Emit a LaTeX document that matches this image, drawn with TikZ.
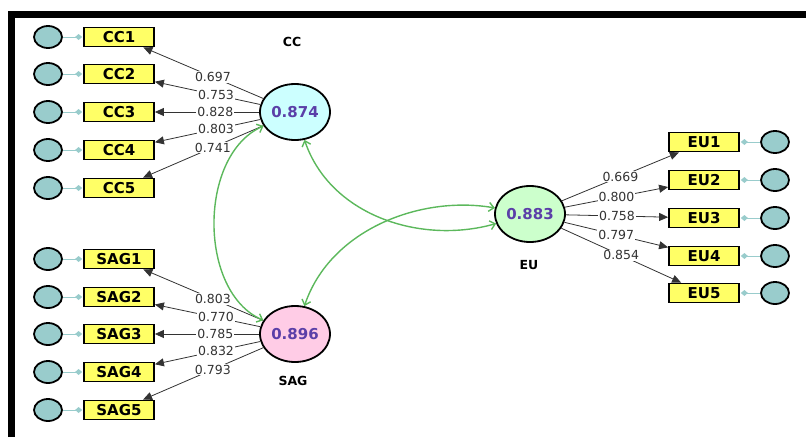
\documentclass[tikz,border=0pt]{standalone}
\usepackage{fontspec}
\setmainfont{DejaVu Sans}
\usepackage{tikz}
\usetikzlibrary{shapes.geometric,arrows.meta}
\definecolor{errfill}{HTML}{99CCCC}
\definecolor{boxfill}{HTML}{FFFF66}
\definecolor{ccfill}{HTML}{CCFFFF}
\definecolor{sagfill}{HTML}{FFCCE6}
\definecolor{eufill}{HTML}{CCFFCC}
\definecolor{valcol}{HTML}{5B3FA8}
\definecolor{covcol}{HTML}{5CB85C}
\definecolor{loadcol}{HTML}{333333}
\tikzset{lat/.style={ellipse,draw,line width=1.8pt,minimum width=70pt,minimum height=56pt,inner sep=0pt,text=valcol,font=\bfseries\fontsize{15}{15}\selectfont}}
\tikzset{ind/.style={rectangle,draw,fill=boxfill,line width=1.8pt,minimum width=70pt,minimum height=19pt,inner sep=0pt,font=\bfseries\fontsize{15}{15}\selectfont}}
\tikzset{err/.style={ellipse,draw,fill=errfill,line width=1.8pt,minimum width=28pt,minimum height=22pt,inner sep=0pt}}
\tikzset{res/.style={draw=errfill,line width=1pt,-{Diamond[length=7pt,width=6pt]},shorten >=1pt}}
\tikzset{load/.style={draw=loadcol,line width=0.8pt,-{Triangle[length=9pt,width=8pt]}}}
\tikzset{lbl/.style={fill=white,inner sep=1pt,text=loadcol,font=\fontsize{12.5}{12.5}\selectfont}}
\tikzset{cov/.style={draw=covcol,line width=1.4pt,{Straight Barb[length=5pt,width=9pt]}-{Straight Barb[length=5pt,width=9pt]}}}
\tikzset{title/.style={font=\bfseries\fontsize{12.5}{12.5}\selectfont}}

\begin{document}
\begin{tikzpicture}[x=1pt,y=-1pt]
    \useasboundingbox (0,0) rectangle (806,437);
    \draw[line width=7pt] (11.5,437) |- (806,14.5);

    % latent variables
    \node[lat,fill=ccfill] (cc)at (295,112) {0.874};
    \node[lat,fill=sagfill] (sag)at (295,334) {0.896};
    \node[lat,fill=eufill] (eu)at (530,214) {0.883};
    \node[title] (cclab)at (292,42) {CC};
    \node[title] (saglab)at (293,381) {SAG};
    \node[title] (eulab)at (529,265) {EU};

    % indicators
    \node[ind] (cc1)at (119,37) {CC1};
    \node[ind] (cc2)at (119,74) {CC2};
    \node[ind] (cc3)at (119,112) {CC3};
    \node[ind] (cc4)at (119,150) {CC4};
    \node[ind] (cc5)at (119,188) {CC5};
    \node[ind] (sag1)at (119,259) {SAG1};
    \node[ind] (sag2)at (119,297) {SAG2};
    \node[ind] (sag3)at (119,334) {SAG3};
    \node[ind] (sag4)at (119,372) {SAG4};
    \node[ind] (sag5)at (119,410) {SAG5};
    \node[ind] (eu1)at (704,142) {EU1};
    \node[ind] (eu2)at (704,180) {EU2};
    \node[ind] (eu3)at (704,218) {EU3};
    \node[ind] (eu4)at (704,256) {EU4};
    \node[ind] (eu5)at (704,293) {EU5};

    % error terms
    \node[err] (ecc1)at (48,37) {};
    \node[err] (ecc2)at (48,74) {};
    \node[err] (ecc3)at (48,112) {};
    \node[err] (ecc4)at (48,150) {};
    \node[err] (ecc5)at (48,188) {};
    \node[err] (esag1)at (48,259) {};
    \node[err] (esag2)at (48,297) {};
    \node[err] (esag3)at (48,334) {};
    \node[err] (esag4)at (48,372) {};
    \node[err] (esag5)at (48,410) {};
    \node[err] (eeu1)at (775,142) {};
    \node[err] (eeu2)at (775,180) {};
    \node[err] (eeu3)at (775,218) {};
    \node[err] (eeu4)at (775,256) {};
    \node[err] (eeu5)at (775,293) {};

    \draw[res] (ecc1) -- (cc1);
    \draw[res] (ecc2) -- (cc2);
    \draw[res] (ecc3) -- (cc3);
    \draw[res] (ecc4) -- (cc4);
    \draw[res] (ecc5) -- (cc5);
    \draw[res] (esag1) -- (sag1);
    \draw[res] (esag2) -- (sag2);
    \draw[res] (esag3) -- (sag3);
    \draw[res] (esag4) -- (sag4);
    \draw[res] (esag5) -- (sag5);
    \draw[res] (eeu1) -- (eu1);
    \draw[res] (eeu2) -- (eu2);
    \draw[res] (eeu3) -- (eu3);
    \draw[res] (eeu4) -- (eu4);
    \draw[res] (eeu5) -- (eu5);

    % loadings
    \draw[load] (cc) to node[lbl,pos=0.42]{0.697} (cc1);
    \draw[load] (cc) to node[lbl,pos=0.42]{0.753} (cc2);
    \draw[load] (cc) to node[lbl,pos=0.42]{0.828} (cc3);
    \draw[load] (cc) to node[lbl,pos=0.42]{0.803} (cc4);
    \draw[load] (cc) to node[lbl,pos=0.42]{0.741} (cc5);
    \draw[load] (sag) to node[lbl,pos=0.42]{0.803} (sag1);
    \draw[load] (sag) to node[lbl,pos=0.42]{0.770} (sag2);
    \draw[load] (sag) to node[lbl,pos=0.42]{0.785} (sag3);
    \draw[load] (sag) to node[lbl,pos=0.42]{0.832} (sag4);
    \draw[load] (sag) to node[lbl,pos=0.42]{0.793} (sag5);
    \draw[load] (eu) to node[lbl,pos=0.5]{0.669} (eu1);
    \draw[load] (eu) to node[lbl,pos=0.5]{0.800} (eu2);
    \draw[load] (eu) to node[lbl,pos=0.5]{0.758} (eu3);
    \draw[load] (eu) to node[lbl,pos=0.5]{0.797} (eu4);
    \draw[load] (eu) to node[lbl,pos=0.5]{0.854} (eu5);

    % correlations
    \draw[cov] (cc) .. controls (198,155) and (198,292) .. (sag);
    \draw[cov] (cc) .. controls (330,215) and (420,245) .. (eu);
    \draw[cov] (sag) .. controls (330,230) and (420,195) .. (eu);
\end{tikzpicture}
\end{document}
